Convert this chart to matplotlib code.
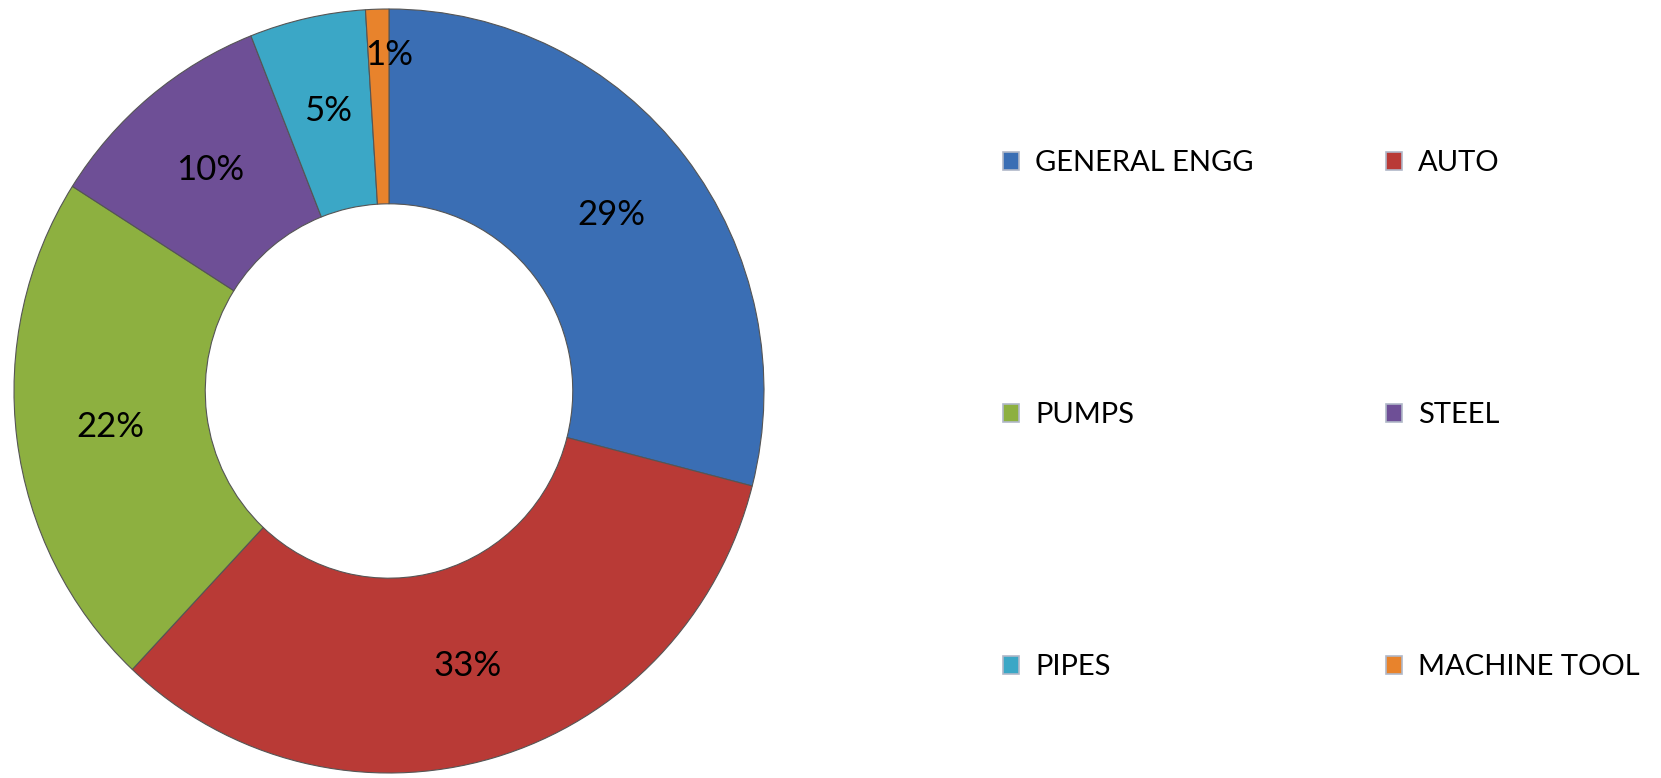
import numpy as np
import matplotlib
matplotlib.use("Agg")
from matplotlib import pyplot as plt
from matplotlib.patches import Patch

# dane wykresu
sectors = ["GENERAL ENGG", "AUTO", "PUMPS", "STEEL", "PIPES", "MACHINE TOOL"]
shares = [29, 33, 22, 10, 5, 1]
colors = ["#3A6EB4", "#B93A36", "#8DB040", "#6E4F96", "#3BA7C6", "#E8832C"]

plt.rcParams["font.family"] = ["Lato", "DejaVu Sans"]

fig = plt.figure(figsize=(16.61, 7.78), dpi=100)

# os wykresu pierscieniowego - lekko spłaszczony w poziomie jak w oryginale
cx, cy, rx, ry = 389, 391, 375, 382
W, H = 1661, 778
ax = fig.add_axes([(cx - rx) / W, (H - cy - ry) / H, 2 * rx / W, 2 * ry / H])

wedges, texts, autotexts = ax.pie(
    shares,
    colors=colors,
    startangle=90,
    counterclock=False,
    radius=1.0,
    autopct="%d%%",
    pctdistance=0.75,
    wedgeprops=dict(width=0.51, edgecolor="#555555", linewidth=0.8),
    textprops=dict(fontsize=25, color="black"),
)
# etykieta 1% lezy wyzej, przy krawedzi
autotexts[-1].set_position((0.0, 0.88))
ax.set_aspect("auto")
ax.set_xlim(-1.0, 1.0)
ax.set_ylim(-1.0, 1.0)

# legenda - wypelniana kolumnami, wiec zmieniamy kolejnosc
order = [0, 2, 4, 1, 3, 5]
handles = [Patch(facecolor=colors[i], edgecolor="#b0b8c8", linewidth=1.2) for i in order]
labels = [sectors[i] for i in order]
fig.legend(
    handles, labels,
    loc="center left",
    bbox_to_anchor=(0.588, 0.466),
    ncol=2,
    frameon=False,
    fontsize=21,
    handlelength=0.55,
    handleheight=0.55,
    handletextpad=0.55,
    labelspacing=7.75,
    columnspacing=4.55,
)

fig.savefig("out.png", dpi=100)
